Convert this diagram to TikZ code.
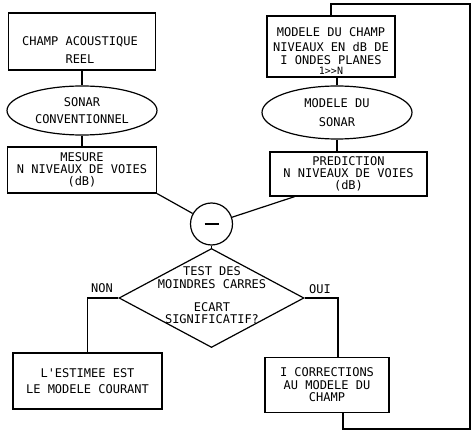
\documentclass[tikz,border=0pt]{standalone}
\usepackage{fontspec}
\newfontfamily\plotfont{DejaVu Sans Mono}
\usepackage{tikz}
\usetikzlibrary{positioning}
\usetikzlibrary{shapes.geometric}
\usetikzlibrary{calc}

\tikzset{
  boite/.style={draw, line width=1.2pt, rectangle, inner sep=0pt},
  ovale/.style={draw, line width=1.2pt, ellipse, inner sep=0pt},
  texte/.style={font=\plotfont\fontsize{12}{12}\selectfont, align=center, inner sep=0pt},
  lien/.style={line width=1.2pt},
}

\begin{document}
\begin{tikzpicture}[x=1pt, y=-1pt]
 \useasboundingbox (0,0) rectangle (475,441);

 % left column
 \node[boite, minimum width=147pt, minimum height=57pt] (champ) at (82,41.5) {};
 \node[texte] (champtxt) at (80,50) {CHAMP ACOUSTIQUE\\[6pt]REEL};
 \node[ovale, texte, minimum width=150pt, minimum height=49pt] (sonar) at (82,110.5) {SONAR\\[5pt]CONVENTIONNEL};
 \node[boite, texte, minimum width=149pt, minimum height=46pt] (mesure) at (82,170) {MESURE\\[0pt]N NIVEAUX DE VOIES\\[0pt](dB)};

 % right column
 \node[boite, minimum width=128pt, minimum height=61pt] (modchamp) at (331,46.5) {};
 \node[texte] (modchamptxt) at (331,51) {MODELE DU CHAMP\\[3pt]NIVEAUX EN dB DE\\[1pt]I ONDES PLANES\\[-2pt]{\fontsize{10}{10}\selectfont 1>>N}};
 \node[ovale, texte, minimum width=150pt, minimum height=53pt] (modsonar) at (337,112.5) {MODELE DU\\[7pt]SONAR};
 \node[boite, texte, minimum width=157pt, minimum height=44pt] (predict) at (348.5,174) {PREDICTION\\[0pt]N NIVEAUX DE VOIES\\[0pt](dB)};

 % comparison and test
 \node[draw, circle, line width=1.2pt, minimum size=42pt, inner sep=0pt] (ecart) at (211.5,224) {};
 \draw[line width=2pt] ([xshift=-7pt]ecart.center) -- ([xshift=7pt]ecart.center);
 \node[draw, diamond, line width=1.2pt, minimum width=185pt, minimum height=99pt, inner sep=0pt] (test) at (211.5,298) {};
 \node[texte] (testtxt) at (212,295) {TEST DES\\[1pt]MOINDRES CARRES\\[11pt]ECART\\[0pt]SIGNIFICATIF?};
 \node[texte] (non) at (102,288) {NON};
 \node[texte] (oui) at (320,289) {OUI};

 %level bottom
 \node[boite, texte, minimum width=149pt, minimum height=56pt] (estimee) at (87.5,381) {L'ESTIMEE EST\\[4pt]LE MODELE COURANT};
 \node[boite, texte, minimum width=124pt, minimum height=55pt] (correct) at (327,385) {I CORRECTIONS\\[1pt]AU MODELE DU\\[0pt]CHAMP};

 % lines
 \foreach \source/\dest in {champ/sonar, sonar/mesure, ecart/test}
   \draw[lien] (\source) -- (\dest);
 \draw[lien] (modsonar) -- (modsonar |- modchamp.south);
 \draw[lien] (modsonar) -- (modsonar |- predict.north);
 \draw[lien] (mesure.south east) -- (ecart);
 \draw[lien] ($(predict.south west)!0.16!(predict.south east)$) -- (ecart);
 \draw[lien] (test.west) -| (estimee.north);
 \draw[lien] (test.east) -| ([xshift=11pt]correct.north);
 \draw[lien] ([xshift=16pt]correct.south) -- ++(0,16) -| (470,4) -| (modchamp.north);

\end{tikzpicture}
\end{document}
